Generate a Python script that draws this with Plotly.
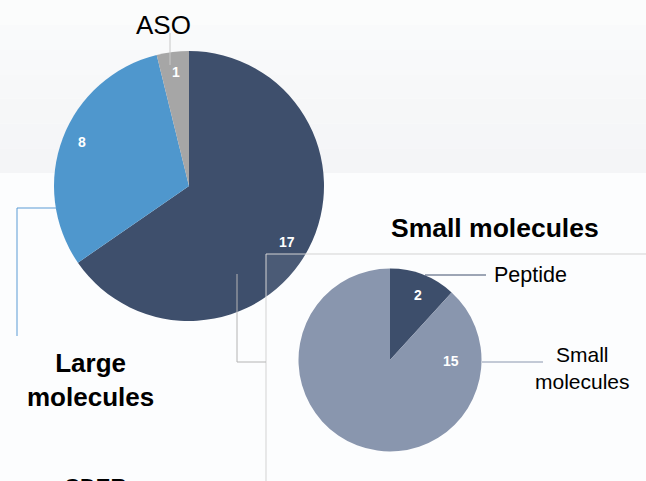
import plotly.graph_objects as go

W, H = 646, 481

# ---- data ----
large_labels = ["Small molecules", "Large molecules", "ASO"]
large_values = [17, 8, 1]
small_labels = ["Peptide", "Small molecules "]
small_values = [2, 15]

def px(x):
    return x / W

def py(y):
    return 1 - y / H

FONT = "Liberation Sans, Arial, sans-serif"

# the white veil of the box lightens what is under it; small pie colours are pre-compensated
VEIL = 0.07
def comp(rgb):
    return "rgb(%d,%d,%d)" % tuple(max(0, round((c - VEIL * 255) / (1 - VEIL))) for c in rgb)

fig = go.Figure()

fig.add_trace(go.Pie(
    labels=large_labels, values=large_values, sort=False, direction="clockwise", rotation=0,
    marker=dict(colors=["#3e4f6c", "#4f97cd", "#a6a6a6"], line=dict(width=0)),
    textinfo="none", hoverinfo="label+value", showlegend=False,
    domain=dict(x=[px(53), px(325)], y=[py(321), py(51)]),
))
fig.add_trace(go.Pie(
    labels=small_labels, values=small_values, sort=False, direction="clockwise", rotation=0,
    marker=dict(colors=[comp((62, 78, 107)), comp((138, 150, 174))], line=dict(width=0)),
    textinfo="none", hoverinfo="label+value", showlegend=False,
    domain=dict(x=[px(298.5), px(481.5)], y=[py(451.5), py(268.5)]),
))

shapes = []
# background band (stepped gradient)
band_cols = ["#fbfcfc", "#f9fafb", "#f8f9fa", "#f7f8f9", "#f6f7f8", "#f5f6f8", "#f4f5f7"]
n = len(band_cols)
for i, c in enumerate(band_cols):
    y0 = 173 * i / n
    y1 = 173 * (i + 1) / n
    shapes.append(dict(type="rect", xref="paper", yref="paper", layer="below",
                       x0=0, x1=1, y0=py(y1), y1=py(y0), fillcolor=c, line=dict(width=0)))

def seg(x0, y0, x1, y1, color, width=1):
    shapes.append(dict(type="line", xref="paper", yref="paper", layer="above",
                       x0=px(x0), y0=py(y0), x1=px(x1), y1=py(y1),
                       line=dict(color=color, width=width)))

# box with light veil
shapes.append(dict(type="rect", xref="paper", yref="paper", layer="above",
                   x0=px(266), y0=py(500), x1=px(660), y1=py(254),
                   fillcolor="rgba(255,255,255,%.2f)" % VEIL,
                   line=dict(color="#d3d3d3", width=1)))

# leader lines
seg(170, 33, 170, 65, "#c8c8c8")
seg(57, 208, 17, 208, "#5b9bd5")
seg(17, 208, 17, 336, "#5b9bd5")
seg(237, 274, 237, 362, "#b4b4b4")
seg(237, 362, 266, 362, "#b4b4b4")
seg(425, 275, 486, 275, "#3e4f6c")
seg(482, 362, 543, 362, "#8a96ae")

annotations = []

def txt(x, y, s, size, color="black", bold=False, xanchor="center", yanchor="middle"):
    annotations.append(dict(
        xref="paper", yref="paper", x=px(x), y=py(y), text=("<b>%s</b>" % s) if bold else s,
        showarrow=False, xanchor=xanchor, yanchor=yanchor,
        font=dict(family=FONT, size=size, color=color)))

# numeric labels from data
large_pos = [(287, 242), (82, 142), (176, 72)]
for v, (x, y) in zip(large_values, large_pos):
    txt(x, y, str(v), 14, "white", bold=True)
small_pos = [(418, 295), (451, 361)]
for v, (x, y) in zip(small_values, small_pos):
    txt(x, y, str(v), 14, "white", bold=True)

txt(163, 25, "ASO", 26)
txt(90, 380, "Large<br>molecules", 26, bold=True)
txt(495, 228, "Small molecules", 26.5, bold=True)
txt(492, 275, "Peptide", 21.5, xanchor="left")
txt(582, 368, "Small<br>molecules", 21)
txt(95, 472, "CDER", 22, bold=True, yanchor="top")

fig.update_layout(
    width=W, height=H, margin=dict(l=0, r=0, t=0, b=0),
    paper_bgcolor="#fcfdfe", plot_bgcolor="#fcfdfe",
    shapes=shapes, annotations=annotations,
)

fig.write_html("out.html", config={"displayModeBar": False},
               post_script="document.body.style.margin='0';")
